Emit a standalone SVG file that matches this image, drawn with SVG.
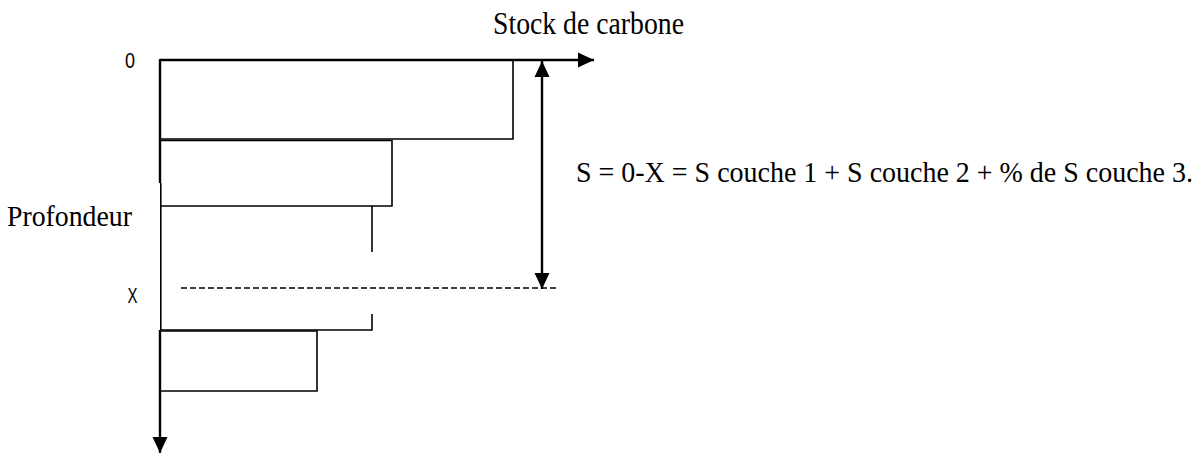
<svg xmlns="http://www.w3.org/2000/svg" width="1204" height="454" viewBox="0 0 1204 454">
<style>
.ln{stroke:#000;fill:none;stroke-width:1.6}
.tk{stroke:#000;fill:none;stroke-width:2.4}
.dash{stroke:#000;fill:none;stroke-width:1.6;stroke-dasharray:6 3}
.serif{font-family:"Liberation Serif","Times New Roman",serif;fill:#000}
.sans{font-family:"Liberation Sans",Arial,sans-serif;fill:#000}
</style>
<defs>
<marker id="ah" markerUnits="userSpaceOnUse" markerWidth="16" markerHeight="16" viewBox="0 0 16 16" refX="16" refY="8" orient="auto-start-reverse">
<path d="M0,0.5 L16,8 L0,15.5 Z" fill="#000"/>
</marker>
</defs>
<rect width="1204" height="454" fill="#fff"/>
<g id="labels">
<text class="serif" x="493" y="34" font-size="31" textLength="191" lengthAdjust="spacingAndGlyphs">Stock de carbone</text>
<text class="serif" x="7" y="226" font-size="30" textLength="125" lengthAdjust="spacingAndGlyphs">Profondeur</text>
<text class="sans" x="125" y="67.5" font-size="22" textLength="10" lengthAdjust="spacingAndGlyphs">0</text>
<text class="sans" x="127.5" y="303" font-size="22" textLength="10" lengthAdjust="spacingAndGlyphs">X</text>
<text class="serif" x="576" y="182" font-size="29" textLength="617" lengthAdjust="spacingAndGlyphs">S = 0-X = S couche 1 + S couche 2 + % de S couche 3.</text>
</g>
<g id="layer1">
<path class="ln" d="M513,60 V139 H160"/>
</g>
<g id="layer2">
<path class="ln" d="M160,140.5 H392 V206 H160"/>
</g>
<g id="layer3">
<path class="ln" d="M372,206 V252"/>
<path class="ln" d="M372,314 V330 H160"/>
</g>
<g id="layer4">
<path class="ln" d="M160,331 H317 V391 H160"/>
</g>
<g id="connectors">
<line class="tk" x1="160" y1="60" x2="594" y2="60" marker-end="url(#ah)"/>
<line class="tk" x1="160" y1="59" x2="160" y2="183"/>
<line class="ln" x1="160.8" y1="183" x2="160.8" y2="330"/>
<line class="tk" x1="160" y1="330" x2="160" y2="453" marker-end="url(#ah)"/>
<line class="tk" x1="542" y1="61" x2="542" y2="289" marker-start="url(#ah)" marker-end="url(#ah)"/>
<line class="dash" x1="181" y1="288" x2="557" y2="288"/>
</g>
</svg>
